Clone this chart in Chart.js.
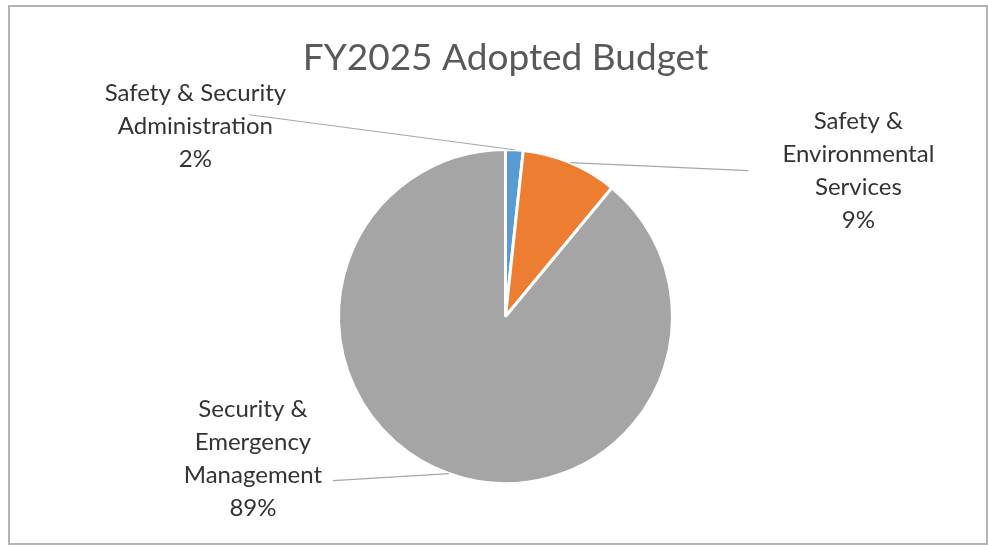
<!DOCTYPE html>
<html>
<head>
<meta charset="utf-8">
<script src="https://cdn.jsdelivr.net/npm/chart.js@4"></script>
<style>
  html, body { margin: 0; padding: 0; background: #fff; }
  #frame { position: absolute; left: 8px; top: 5px; width: 976px; height: 536px; border: 2px solid #b4b4b4; }
  #wrap { position: absolute; left: 0; top: 0; width: 988px; height: 545px; }
</style>
</head>
<body>
<div id="frame"></div>
<div id="wrap"><canvas id="budgetPie" width="988" height="545"></canvas></div>
<script>
// data
var chartTitle = "FY2025 Adopted Budget";
var categories = ["Safety & Security Administration", "Safety & Environmental Services", "Security & Emergency Management"];
var labelLines = [["Safety & Security", "Administration"], ["Safety &", "Environmental", "Services"], ["Security &", "Emergency", "Management"]];
var shares = [1.7, 9.3, 89.0];
var shareLabels = ["2%", "9%", "89%"];
var sliceColors = ["#5b9bd5", "#ed7d31", "#a5a5a5"];

// where each callout sits relative to its slice, and where the leader line meets it
var callouts = [
    { dx: -319, dy: -23, lx: 54, ly: -12 },
    { dx: 288, dy: 8, lx: -110, ly: 0 },
    { dx: -196, dy: -15, lx: 80, ly: 22 }
];

// title drawn by hand: the built-in one gets squeezed into the narrow padded box
var titlePlugin = {
    id: 'bigTitle',
    afterDraw: function (chart) {
        var ctx = chart.ctx;
        var a = chart.chartArea;
        ctx.save();
        ctx.fillStyle = '#595959';
        ctx.font = '37px Lato';
        ctx.textAlign = 'center';
        ctx.textBaseline = 'middle';
        ctx.fillText(chartTitle, (a.left + a.right) / 2, 58);
        ctx.restore();
    }
};

var calloutPlugin = {
    id: 'callouts',
    afterDatasetsDraw: function (chart) {
        var ctx = chart.ctx;
        var arcs = chart.getDatasetMeta(0).data;
        ctx.save();
        arcs.forEach(function (arc, i) {
            var p = arc.getProps(['x', 'y', 'startAngle', 'endAngle', 'outerRadius'], true);
            var mid = (p.startAngle + p.endAngle) / 2;
            var ax = p.x + Math.cos(mid) * p.outerRadius;
            var ay = p.y + Math.sin(mid) * p.outerRadius;
            var c = callouts[i];
            var cx = ax + c.dx, cy = ay + c.dy;

            ctx.strokeStyle = '#a6a6a6';
            ctx.lineWidth = 1.2;
            ctx.beginPath();
            ctx.moveTo(ax, ay);
            ctx.lineTo(cx + c.lx, cy + c.ly);
            ctx.stroke();

            var lines = labelLines[i].concat([shareLabels[i]]);
            var lh = 33;
            ctx.fillStyle = '#333333';
            ctx.font = '24px Lato';
            ctx.textAlign = 'center';
            ctx.textBaseline = 'middle';
            var top = cy - (lines.length - 1) * lh / 2;
            lines.forEach(function (t, k) {
                ctx.fillText(t, cx, top + k * lh);
            });
        });
        ctx.restore();
    }
};

var ctx = document.getElementById('budgetPie').getContext('2d');
new Chart(ctx, {
    type: 'pie',
    data: {
        labels: categories,
        datasets: [{
            data: shares,
            backgroundColor: sliceColors,
            borderColor: '#ffffff',
            borderWidth: 3
        }]
    },
    options: {
        responsive: false,
        animation: false,
        layout: { padding: { left: 337, right: 314, top: 148, bottom: 60 } },
        plugins: {
            legend: { display: false },
            tooltip: { enabled: false },
            title: { display: false }
        }
    },
    plugins: [calloutPlugin, titlePlugin]
});
</script>
</body>
</html>
